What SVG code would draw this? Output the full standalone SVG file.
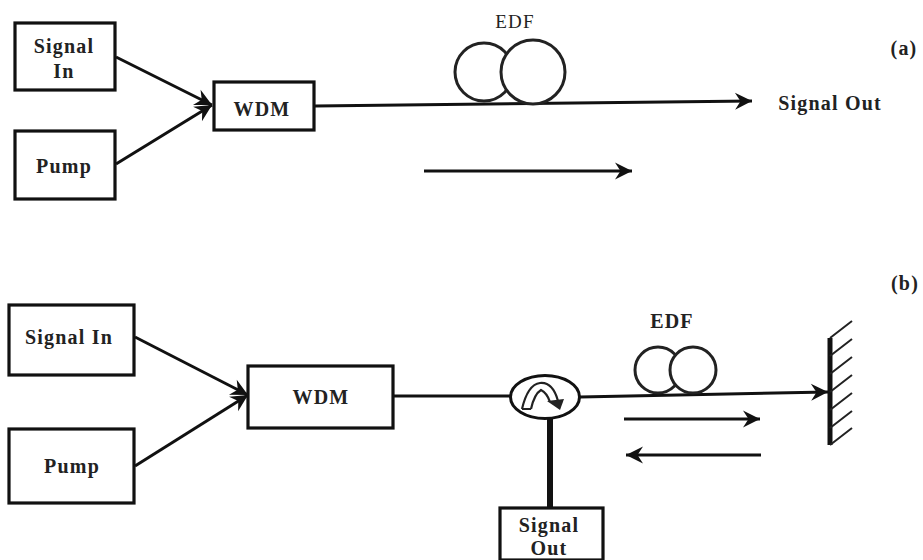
<svg xmlns="http://www.w3.org/2000/svg" width="923" height="560" viewBox="0 0 923 560">
<defs>
<marker id="a" markerUnits="userSpaceOnUse" markerWidth="22" markerHeight="22" viewBox="0 0 22 22" refX="20" refY="11" orient="auto"><path d="M3 2.500 L20 11 L3 19.500 L8.500 11 Z" fill="#111"/></marker>
</defs>
<style>
.b{fill:#fff;stroke:#111;stroke-width:3.2}
.c{fill:none;stroke:#111;stroke-width:3}
.t{font-family:"Liberation Serif",serif;font-weight:bold;font-size:20px;fill:#222;text-anchor:middle;letter-spacing:1.2px}
.o{fill:none;stroke:#222;stroke-width:3}
</style>
<rect width="923" height="560" fill="#fff"/>
<g id="connectors">
<path class="c" d="M116 57 L212 105" marker-end="url(#a)"/>
<path class="c" d="M116 164 L212 105" marker-end="url(#a)"/>
<path class="c" d="M315 106 L752 101" marker-end="url(#a)"/>
<path class="c" d="M424 171 L632 171" marker-end="url(#a)"/>
<path class="c" d="M135 337 L248 395" marker-end="url(#a)"/>
<path class="c" d="M135 466 L248 395" marker-end="url(#a)"/>
<path class="c" d="M394 396 L510 396"/>
<path class="c" d="M580 397 L828 392" marker-end="url(#a)"/>
<path class="c" d="M624 419 L760 419" marker-end="url(#a)"/>
<path class="c" stroke-width="2.4" d="M761 455 L626 455" marker-end="url(#a)"/>
<path d="M550 418 L550 508" fill="none" stroke="#111" stroke-width="6"/>
</g>
<g id="signal-in-a"><rect class="b" x="15" y="23" width="100" height="67"/><text class="t" x="64" y="53">Signal</text><text class="t" x="64" y="78">In</text></g>
<g id="pump-a"><rect class="b" x="15" y="131" width="100" height="68"/><text class="t" x="64" y="173">Pump</text></g>
<g id="wdm-a"><rect class="b" x="214" y="82" width="100" height="48"/><text class="t" x="262" y="116">WDM</text></g>
<g id="edf-a"><circle class="o" cx="484" cy="72" r="29"/><circle class="o" cx="533" cy="72" r="32" style="fill:#fff"/><text class="t" x="515" y="28" style="font-weight:normal;font-size:19px">EDF</text></g>
<g id="signal-out-a"><text class="t" x="830" y="110">Signal Out</text></g>
<g id="label-a"><text class="t" x="904" y="55">(a)</text></g>
<g id="label-b"><text class="t" x="905" y="290">(b)</text></g>
<g id="signal-in-b"><rect class="b" x="9" y="305" width="125" height="70"/><text class="t" x="69" y="344">Signal In</text></g>
<g id="pump-b"><rect class="b" x="9" y="429" width="125" height="74"/><text class="t" x="72" y="473">Pump</text></g>
<g id="wdm-b"><rect class="b" x="248" y="366" width="145" height="62"/><text class="t" x="321" y="404">WDM</text></g>
<g id="circulator">
<ellipse cx="545" cy="397" rx="34.500" ry="21.500" fill="#fff" stroke="#111" stroke-width="3"/>
<path d="M522 409 C526 392 532 384 540 383 C550 382 555 390 558 401 M531 409 C533 400 536 393 541 390 C545 392 548 396 550 402" fill="none" stroke="#222" stroke-width="2.2"/>
<path d="M522 409 L531 409" fill="none" stroke="#222" stroke-width="2"/>
<path d="M547 401 L564 399 L560 410 Z" fill="#222"/>
</g>
<g id="edf-b"><circle class="o" cx="658" cy="370" r="23"/><circle class="o" cx="693" cy="370" r="23" style="fill:#fff"/><text class="t" x="672" y="328">EDF</text></g>
<g id="mirror"><path d="M830 338 L830 445" fill="none" stroke="#111" stroke-width="5"/><path d="M830 338 L852 321 M830 356 L852 339 M830 374 L852 357 M830 392 L852 375 M830 410 L852 393 M830 428 L852 411 M830 445 L852 428" fill="none" stroke="#222" stroke-width="2"/></g>
<g id="signal-out-b"><rect class="b" x="500" y="508" width="103" height="52"/><text class="t" x="549" y="532">Signal</text><text class="t" x="549" y="555">Out</text></g>
</svg>
